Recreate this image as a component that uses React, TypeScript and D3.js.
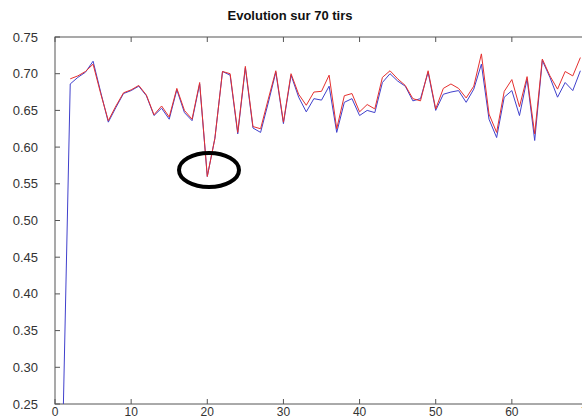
import React from "react";
import * as d3 from "d3";

const title = "Evolution sur 70 tirs";
const xTicks = [0, 10, 20, 30, 40, 50, 60, 70];
const yTicks = [0.25, 0.3, 0.35, 0.4, 0.45, 0.5, 0.55, 0.6, 0.65, 0.7, 0.75];

// blue series, shots 1..69
const blueValues = [
  0.2, 0.686, 0.695, 0.702, 0.717, 0.675, 0.634, 0.654, 0.673, 0.677,
  0.683, 0.67, 0.643, 0.653, 0.638, 0.678, 0.647, 0.636, 0.686, 0.56,
  0.612, 0.703, 0.698, 0.618, 0.708, 0.626, 0.62, 0.66, 0.702, 0.632,
  0.698, 0.668, 0.648, 0.666, 0.664, 0.683, 0.62, 0.661, 0.666, 0.643,
  0.65, 0.647, 0.688, 0.7, 0.69, 0.683, 0.663, 0.666, 0.702, 0.65,
  0.672, 0.675, 0.677, 0.661, 0.679, 0.713, 0.638, 0.613, 0.668, 0.677,
  0.643, 0.693, 0.609, 0.718, 0.695, 0.668, 0.688, 0.677, 0.704,
];

// red series, shots 2..69 (no value for shot 1)
const redValues = [
  null, 0.693, 0.697, 0.703, 0.713, 0.673, 0.636, 0.656, 0.674, 0.678,
  0.684, 0.671, 0.644, 0.656, 0.641, 0.68, 0.65, 0.638, 0.688, 0.56,
  0.612, 0.703, 0.7, 0.62, 0.71, 0.628, 0.625, 0.665, 0.704, 0.634,
  0.7, 0.672, 0.657, 0.675, 0.676, 0.698, 0.625, 0.67, 0.673, 0.648,
  0.658, 0.652, 0.695, 0.704, 0.693, 0.684, 0.666, 0.663, 0.704, 0.652,
  0.68, 0.686, 0.68, 0.667, 0.683, 0.727, 0.645, 0.62, 0.676, 0.692,
  0.655, 0.696, 0.618, 0.72, 0.697, 0.679, 0.703, 0.697, 0.722,
];

const W = 582;
const H = 420;
const left = 55;
const right = 588;
const top = 37;
const bottom = 404;

export default function App() {
  const x = d3.scaleLinear().domain([0, 70]).range([left, right]);
  const y = d3.scaleLinear().domain([0.25, 0.75]).range([bottom, top]);
  const line = d3
    .line<number | null>()
    .defined((d) => d !== null)
    .x((_, i) => x(i + 1))
    .y((d) => y(d as number));

  const axisColor = "#555";
  const font = "Liberation Sans, Arial, sans-serif";

  return (
    <svg
      width={W}
      height={H}
      style={{ position: "absolute", left: 0, top: 0, background: "#fff" }}
    >
      <defs>
        <clipPath id="plot">
          <rect x={left} y={top} width={right - left} height={bottom - top} />
        </clipPath>
      </defs>
      <rect x={0} y={0} width={W} height={H} fill="#fff" />
      <text
        x={290}
        y={20}
        textAnchor="middle"
        fontFamily={font}
        fontWeight="bold"
        fontSize={13}
        fill="#111"
      >
        {title}
      </text>
      {/* frame */}
      <rect
        x={left}
        y={top}
        width={right - left}
        height={bottom - top}
        fill="none"
        stroke={axisColor}
        strokeWidth={1}
      />
      {/* x ticks */}
      {xTicks.map((t) => (
        <g key={"x" + t}>
          <line x1={x(t)} x2={x(t)} y1={bottom} y2={bottom - 5} stroke={axisColor} />
          <line x1={x(t)} x2={x(t)} y1={top} y2={top + 5} stroke={axisColor} />
          <text
            x={x(t)}
            y={416}
            textAnchor="middle"
            fontFamily={font}
            fontSize={12}
            fill="#333"
          >
            {t}
          </text>
        </g>
      ))}
      {/* y ticks */}
      {yTicks.map((t) => (
        <g key={"y" + t}>
          <line x1={left} x2={left + 5} y1={y(t)} y2={y(t)} stroke={axisColor} />
          <line x1={right} x2={right - 5} y1={y(t)} y2={y(t)} stroke={axisColor} />
          <text
            x={38}
            y={y(t) + 4.5}
            textAnchor="end"
            fontFamily={font}
            fontSize={13}
            fill="#333"
          >
            {t.toFixed(2)}
          </text>
        </g>
      ))}
      <g clipPath="url(#plot)">
        <path d={line(blueValues) || ""} fill="none" stroke="#4040cc" strokeWidth={1} />
        <path d={line(redValues) || ""} fill="none" stroke="#e5302f" strokeWidth={1} />
      </g>
      <ellipse
        cx={209}
        cy={170}
        rx={30}
        ry={17}
        fill="none"
        stroke="#000"
        strokeWidth={4}
      />
    </svg>
  );
}
